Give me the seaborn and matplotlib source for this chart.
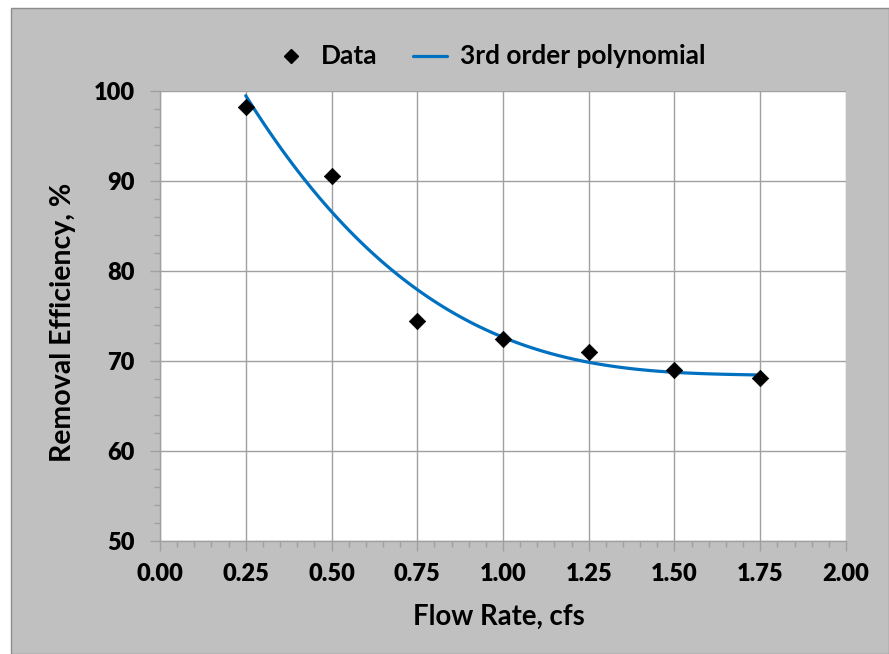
import matplotlib
matplotlib.use("Agg")
import matplotlib.pyplot as plt
from matplotlib.lines import Line2D
from matplotlib.patches import Rectangle
from matplotlib.ticker import MultipleLocator, FormatStrFormatter
import seaborn as sns
import pandas as pd

flow_rate = [0.25, 0.50, 0.75, 1.00, 1.25, 1.50, 1.75]
removal_eff = [98.2, 90.6, 74.4, 72.4, 71.0, 69.0, 68.1]
x_ticks = [0.00, 0.25, 0.50, 0.75, 1.00, 1.25, 1.50, 1.75, 2.00]
y_ticks = [50, 60, 70, 80, 90, 100]

df = pd.DataFrame({"flow": flow_rate, "eff": removal_eff})

sns.set_theme(style="white")
plt.rcParams["font.family"] = ["Lato", "DejaVu Sans"]
plt.rcParams["font.weight"] = "bold"
plt.rcParams["text.color"] = "black"

BG = "#C0C0C0"
GRID = "#A0A0A0"
FS = 16

fig = plt.figure(figsize=(8.89, 6.54), dpi=100, facecolor="white")
fig.patches.append(Rectangle((11 / 889, 0), 1 - 11 / 889, 1 - 8 / 654, transform=fig.transFigure,
                             facecolor=BG, edgecolor="#8C8C8C", linewidth=1.0, zorder=-10))

ax = fig.add_axes([160 / 889, 113 / 654, 686 / 889, 450 / 654])
ax.set_facecolor("white")

sns.regplot(data=df, x="flow", y="eff", order=3, ci=None, scatter=False, ax=ax,
            line_kws=dict(color="#0070C0", linewidth=2.3, zorder=3))
sns.scatterplot(data=df, x="flow", y="eff", marker="D", color="black", s=70,
                edgecolor="black", linewidth=0.5, ax=ax, zorder=4)

ax.set_xlim(0, 2.0)
ax.set_ylim(50, 100)
ax.set_xticks(x_ticks)
ax.set_yticks(y_ticks)
ax.xaxis.set_major_formatter(FormatStrFormatter("%.2f"))
ax.xaxis.set_minor_locator(MultipleLocator(0.05))
ax.yaxis.set_minor_locator(MultipleLocator(2))
ax.grid(True, which="major", color=GRID, linewidth=1.0)
ax.set_axisbelow(True)

for s in ["top", "right"]:
    ax.spines[s].set_visible(False)
for s in ["left", "bottom"]:
    ax.spines[s].set_color(GRID)
    ax.spines[s].set_linewidth(1.0)

ax.tick_params(which="major", direction="out", length=7, width=1, color=GRID,
               labelsize=FS, labelcolor="black")
ax.tick_params(which="minor", direction="out", length=4, width=1, color=GRID,
               left=True, bottom=True)
ax.tick_params(axis="x", which="major", pad=9, bottom=True)
ax.tick_params(axis="y", which="major", pad=11, left=True)
for lab in ax.get_xticklabels() + ax.get_yticklabels():
    lab.set_fontweight("heavy")
    lab.set_color("black")

ax.set_xlabel("")
ax.set_ylabel("")
xl = fig.text(499 / 889, 1 - 617 / 654, "Flow Rate, cfs", ha="center", va="center",
              fontsize=FS, fontweight="bold", color="black")
yl = fig.text(63 / 889, 1 - 322 / 654, "Removal Efficiency, %", ha="center", va="center",
              rotation=90, fontsize=FS, fontweight="bold", color="black")

handles = [
    Line2D([], [], linestyle="none", marker="D", color="black", markersize=7.5),
    Line2D([], [], color="#0070C0", linewidth=2.3),
]
leg = fig.legend(handles, ["Data", "3rd order polynomial"], loc="center",
                 bbox_to_anchor=(490 / 889, 1 - 56 / 654), ncol=2, frameon=False,
                 prop=dict(size=FS, weight="bold"), handlelength=1.5, columnspacing=1.6,
                 handletextpad=0.6)

# scale text sizes so rendered extents match the reference pixel sizes
fig.canvas.draw()
r = fig.canvas.get_renderer()
w = xl.get_window_extent(r).width
xl.set_fontsize(FS * 172 / w)
h = yl.get_window_extent(r).height
yl.set_fontsize(FS * 281 / h)
lt = leg.get_texts()[1]
w = lt.get_window_extent(r).width
lsize = FS * 246 / w
for t in leg.get_texts():
    t.set_fontsize(lsize)
tl = [t for t in ax.get_xticklabels() if t.get_text() == "0.25"][0]
w = tl.get_window_extent(r).width
tsize = FS * 47 / w
ax.tick_params(labelsize=tsize)

fig.savefig("out.png", dpi=100, facecolor=fig.get_facecolor())
